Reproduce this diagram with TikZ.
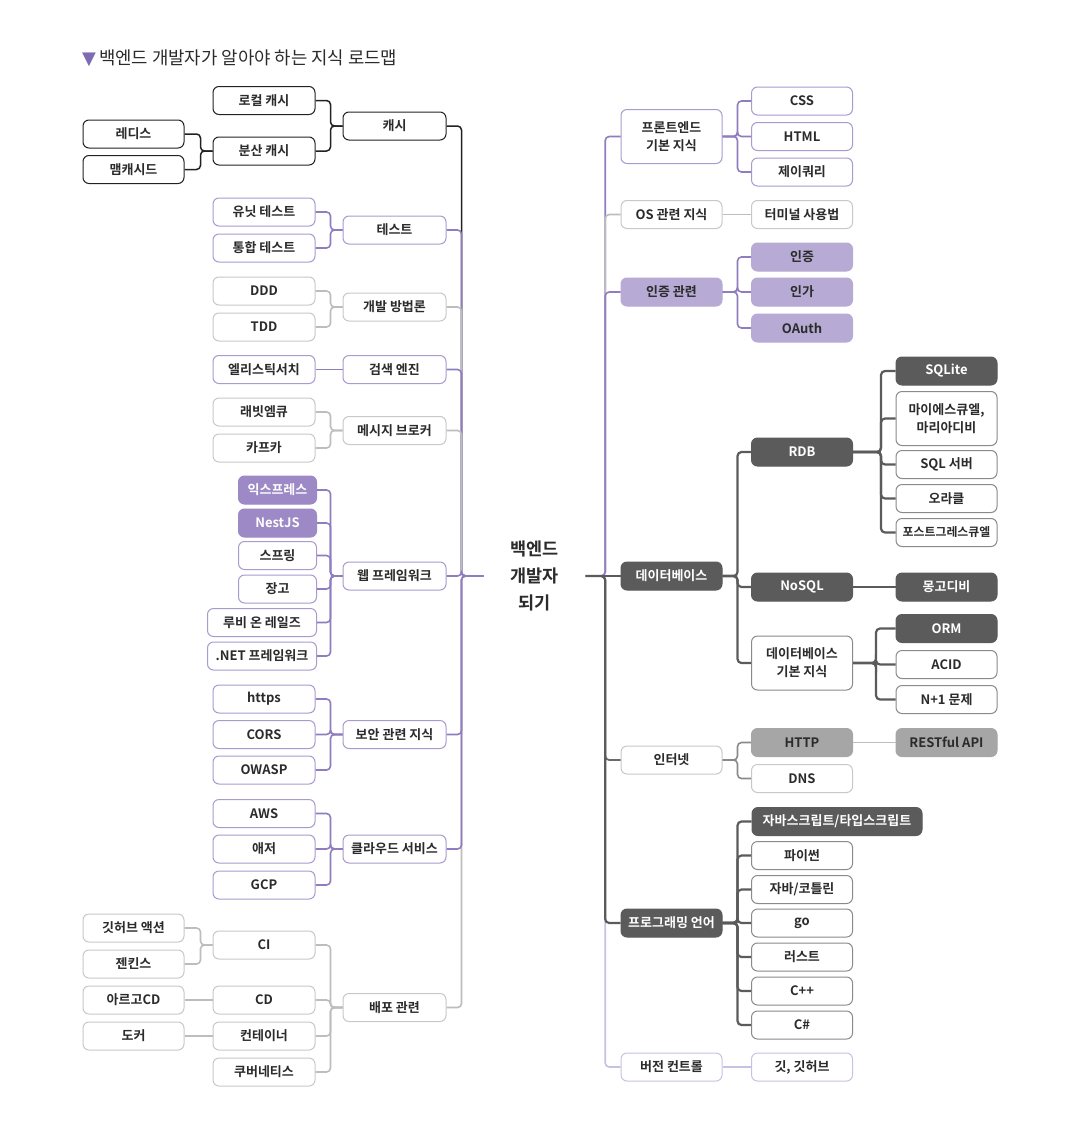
\documentclass[tikz,border=0pt]{standalone}
\usepackage{fontspec}
\setmainfont{Noto Sans CJK KR}[BoldFont={Noto Sans CJK KR Bold}]
\newfontfamily\symfont{DejaVu Sans}
\definecolor{txt}{HTML}{2B2B2B}
\definecolor{blk}{HTML}{222222}
\definecolor{purl}{HTML}{8F7DBF}
\definecolor{purb}{HTML}{A99BCF}
\definecolor{gryl}{HTML}{BDBDBD}
\definecolor{gryb}{HTML}{C8C8C8}
\definecolor{drk}{HTML}{5B5B5B}
\definecolor{midl}{HTML}{8A8A8A}
\definecolor{netl}{HTML}{6A6A6A}
\definecolor{lpur}{HTML}{C9C1E2}
\definecolor{pfa}{HTML}{B7ABD5}
\definecolor{pfb}{HTML}{9C89C5}
\definecolor{mfill}{HTML}{A6A6A6}
\definecolor{ttl}{HTML}{7D6BB3}
\newcommand\elbow[4]{\draw[#1] (#2.east) -- ++(#4,0) |- (#3.west);}
\newcommand\straight[3]{\draw[#1] (#2.east) -- (#3.west);}
\begin{document}
\begin{tikzpicture}[x=1pt,y=-1pt,
  box/.style={rectangle, rounded corners=6pt, draw, fill=white, minimum height=28pt,
    inner sep=2pt, font=\bfseries\fontsize{13}{18}\selectfont, text=txt, line width=1pt, align=center},
  wA/.style={minimum width=101pt}, wB/.style={minimum width=102pt},
  wC/.style={minimum width=103pt}, wN/.style={minimum width=78pt},
  wW/.style={minimum width=109pt}, wR/.style={minimum width=101pt},
  wD/.style={minimum width=101pt}, wE/.style={minimum width=101pt},
  tall/.style={minimum height=54pt},
  stBk/.style={draw=blk}, stPu/.style={draw=purb}, stGy/.style={draw=gryb},
  stDg/.style={draw=midl}, stLp/.style={draw=lpur},
  stDk/.style={draw=drk, fill=drk, text=white},
  stPa/.style={draw=pfa, fill=pfa, text=txt},
  stPb/.style={draw=pfb, fill=pfb, text=white},
  stMg/.style={draw=mfill, fill=mfill, text=txt},
  lnB/.style={draw=blk, line width=1.5pt, rounded corners=4pt},
  lnP/.style={draw=purl, line width=1.6pt, rounded corners=4pt},
  lnG/.style={draw=gryl, line width=1.6pt, rounded corners=4pt},
  lnD/.style={draw=drk, line width=2.2pt, rounded corners=4pt},
  lnM/.style={draw=midl, line width=1.6pt, rounded corners=4pt},
  lnN/.style={draw=netl, line width=1.8pt, rounded corners=4pt},
  lnL/.style={draw=lpur, line width=1.6pt, rounded corners=4pt}]
\fill[white] (0,0) rectangle (1080,1143);
\useasboundingbox (0,0) rectangle (1080,1143);

% title
\node[anchor=west, inner sep=0, font=\fontsize{17.8}{22}\selectfont, text=txt] (title) at (82,58)
  {{\symfont\fontsize{18}{20}\selectfont\color{ttl}▼}\hspace{3pt}백엔드 개발자가 알아야 하는 지식 로드맵};

% root
\node[inner sep=0, minimum width=102pt, font=\bfseries\fontsize{17.5}{27}\selectfont, text=txt, align=center]
  (root) at (534.5,576) {백엔드\\개발자\\되기};

% ---------- left side ----------
\node[box,stBk,wA] (redis) at (133.5,134) {레디스};
\node[box,stBk,wA] (memc) at (133.5,169.5) {맴캐시드};
\node[box,stBk,wB] (local) at (264,100.5) {로컬 캐시};
\node[box,stBk,wB] (dist) at (264,151) {분산 캐시};
\node[box,stBk,wC] (cache) at (394.5,126) {캐시};

\node[box,stPu,wB] (unit) at (264,212) {유닛 테스트};
\node[box,stPu,wB] (integ) at (264,248) {통합 테스트};
\node[box,stPu,wC] (test) at (394.5,230) {테스트};

\node[box,stGy,wB] (ddd) at (264,291) {DDD};
\node[box,stGy,wB] (tdd) at (264,327) {TDD};
\node[box,stGy,wC] (method) at (394.5,307) {개발 방법론};

\node[box,stPu,wB] (elastic) at (264,369.5) {엘리스틱서치};
\node[box,stPu,wC] (search) at (394.5,369.5) {검색 엔진};

\node[box,stGy,wB] (rabbit) at (264,412) {래빗엠큐};
\node[box,stGy,wB] (kafka) at (264,448) {카프카};
\node[box,stGy,wC] (msg) at (394.5,430.5) {메시지 브로커};

\node[box,stPb,wN] (express) at (277.5,490) {익스프레스};
\node[box,stPb,wN] (nest) at (277.5,523) {NestJS};
\node[box,stPu,wN] (spring) at (277.5,555.5) {스프링};
\node[box,stPu,wN] (django) at (277.5,589) {장고};
\node[box,stPu,wW] (rails) at (262,622.5) {루비 온 레일즈};
\node[box,stPu,wW] (dotnet) at (262,656) {.NET 프레임워크};
\node[box,stPu,wC] (web) at (394.5,576) {웹 프레임워크};

\node[box,stPu,wB] (https) at (264,699) {https};
\node[box,stPu,wB] (cors) at (264,734.5) {CORS};
\node[box,stPu,wB] (owasp) at (264,770) {OWASP};
\node[box,stPu,wC] (sec) at (394.5,734.5) {보안 관련 지식};

\node[box,stPu,wB] (aws) at (264,813.5) {AWS};
\node[box,stPu,wB] (azure) at (264,849) {애저};
\node[box,stPu,wB] (gcp) at (264,885) {GCP};
\node[box,stPu,wC] (cloud) at (394.5,849) {클라우드 서비스};

\node[box,stGy,wA] (gha) at (133.5,928) {깃허브 액션};
\node[box,stGy,wA] (jenkins) at (133.5,964) {젠킨스};
\node[box,stGy,wA] (argo) at (133.5,1000) {아르고CD};
\node[box,stGy,wA] (docker) at (133.5,1036) {도커};
\node[box,stGy,wB] (ci) at (264,945) {CI};
\node[box,stGy,wB] (cd) at (264,1000) {CD};
\node[box,stGy,wB] (container) at (264,1036) {컨테이너};
\node[box,stGy,wB] (k8s) at (264,1072) {쿠버네티스};
\node[box,stGy,wC] (deploy) at (394.5,1007.5) {배포 관련};

% ---------- right side ----------
\node[box,stPu,wR,tall] (front) at (671.5,136.5) {프론트엔드\\기본 지식};
\node[box,stPu,wD] (css) at (802,101) {CSS};
\node[box,stPu,wD] (html) at (802,136.5) {HTML};
\node[box,stPu,wD] (jq) at (802,172) {제이쿼리};

\node[box,stGy,wR] (os) at (671.5,214.5) {OS 관련 지식};
\node[box,stGy,wD] (term) at (802,214.5) {터미널 사용법};

\node[box,stPa,wR] (auth) at (671.5,292) {인증 관련};
\node[box,stPa,wD] (authn) at (802,257) {인증};
\node[box,stPa,wD] (authz) at (802,292) {인가};
\node[box,stPa,wD] (oauth) at (802,328) {OAuth};

\node[box,stDk,wR] (db) at (671.5,576) {데이터베이스};
\node[box,stDk,wD] (rdb) at (802,452) {RDB};
\node[box,stDk,wD] (nosql) at (802,587) {NoSQL};
\node[box,stDg,wD,tall] (dbbasic) at (802,663) {데이터베이스\\기본 지식};
\node[box,stDk,wE] (sqlite) at (946.5,371) {SQLite};
\node[box,stDg,wE,tall] (mysql) at (946.5,418.5) {마이에스큐엘,\\마리아디비};
\node[box,stDg,wE] (sqlserver) at (946.5,464.5) {SQL 서버};
\node[box,stDg,wE] (oracle) at (946.5,498.5) {오라클};
\node[box,stDg,wE,inner sep=1pt,font=\bfseries\fontsize{11.9}{16}\selectfont] (pg) at (946.5,532.5) {포스트그레스큐엘};
\node[box,stDk,wE] (mongo) at (946.5,587) {몽고디비};
\node[box,stDk,wE] (orm) at (946.5,628.5) {ORM};
\node[box,stDg,wE] (acid) at (946.5,664.5) {ACID};
\node[box,stDg,wE] (nplus) at (946.5,699.5) {N+1 문제};

\node[box,stGy,wR] (net) at (671.5,760) {인터넷};
\node[box,stMg,wD] (http) at (802,742.5) {HTTP};
\node[box,stGy,wD] (dns) at (802,778.5) {DNS};
\node[box,stMg,wE] (rest) at (946.5,742.5) {RESTful API};

\node[box,stDk,wR] (lang) at (671.5,923) {프로그래밍 언어};
\node[box,stDk,minimum width=170pt] (jsts) at (837,821.5) {자바스크립트/타입스크립트};
\node[box,stDg,wD] (py) at (802,855.5) {파이썬};
\node[box,stDg,wD] (jk) at (802,889.5) {자바/코틀린};
\node[box,stDg,wD] (go) at (802,923) {go};
\node[box,stDg,wD] (rust) at (802,957) {러스트};
\node[box,stDg,wD] (cpp) at (802,991) {C++};
\node[box,stDg,wD] (cs) at (802,1025) {C\#};

\node[box,stLp,wR] (vcs) at (671.5,1067) {버전 컨트롤};
\node[box,stLp,wD] (git) at (802,1067) {깃, 깃허브};

% ---------- connectors: left ----------
\elbow{lnB}{redis}{dist}{16}
\elbow{lnB}{memc}{dist}{16}
\elbow{lnB}{local}{cache}{15}
\elbow{lnB}{dist}{cache}{15}
\elbow{lnP}{unit}{test}{15}
\elbow{lnP}{integ}{test}{15}
\elbow{lnG}{ddd}{method}{15}
\elbow{lnG}{tdd}{method}{15}
\straight{lnP}{elastic}{search}
\elbow{lnG}{rabbit}{msg}{15}
\elbow{lnG}{kafka}{msg}{15}
\elbow{lnP}{express}{web}{13.5}
\elbow{lnP}{nest}{web}{13.5}
\elbow{lnP}{spring}{web}{13.5}
\elbow{lnP}{django}{web}{13.5}
\elbow{lnP}{rails}{web}{13.5}
\elbow{lnP}{dotnet}{web}{13.5}
\elbow{lnP}{https}{sec}{15}
\elbow{lnP}{cors}{sec}{15}
\elbow{lnP}{owasp}{sec}{15}
\elbow{lnP}{aws}{cloud}{15}
\elbow{lnP}{azure}{cloud}{15}
\elbow{lnP}{gcp}{cloud}{15}
\elbow{lnG}{gha}{ci}{16}
\elbow{lnG}{jenkins}{ci}{16}
\straight{lnG}{argo}{cd}
\straight{lnG}{docker}{container}
\elbow{lnG}{ci}{deploy}{15}
\elbow{lnG}{cd}{deploy}{15}
\elbow{lnG}{container}{deploy}{15}
\elbow{lnG}{k8s}{deploy}{15}
% left spine (far first)
\elbow{lnB}{cache}{root}{15}
\elbow{lnP}{test}{root}{15}
\elbow{lnG}{method}{root}{15}
\elbow{lnP}{search}{root}{15}
\elbow{lnG}{msg}{root}{15}
\elbow{lnG}{deploy}{root}{15}
\elbow{lnP}{cloud}{root}{15}
\elbow{lnP}{sec}{root}{15}
\elbow{lnP}{web}{root}{15}

% ---------- connectors: right ----------
\elbow{lnP}{front}{css}{15}
\elbow{lnP}{front}{html}{15}
\elbow{lnP}{front}{jq}{15}
\straight{lnG}{os}{term}
\elbow{lnP}{auth}{authn}{15}
\elbow{lnP}{auth}{authz}{15}
\elbow{lnP}{auth}{oauth}{15}
\elbow{lnD}{db}{rdb}{15}
\elbow{lnD}{db}{nosql}{15}
\elbow{lnD}{db}{dbbasic}{15}
\elbow{lnD}{rdb}{sqlite}{28}
\elbow{lnD}{rdb}{mysql}{28}
\elbow{lnD}{rdb}{sqlserver}{28}
\elbow{lnD}{rdb}{oracle}{28}
\elbow{lnD}{rdb}{pg}{28}
\straight{lnD}{nosql}{mongo}
\elbow{lnD}{dbbasic}{orm}{23}
\elbow{lnD}{dbbasic}{acid}{23}
\elbow{lnD}{dbbasic}{nplus}{23}
\elbow{lnM}{net}{http}{15}
\elbow{lnM}{net}{dns}{15}
\straight{lnG}{http}{rest}
\elbow{lnD}{lang}{jsts}{15}
\elbow{lnD}{lang}{py}{15}
\elbow{lnD}{lang}{jk}{15}
\elbow{lnD}{lang}{go}{15}
\elbow{lnD}{lang}{rust}{15}
\elbow{lnD}{lang}{cpp}{15}
\elbow{lnD}{lang}{cs}{15}
\straight{lnL}{vcs}{git}
% right spine (far first)
\elbow{lnP}{root}{front}{19.5}
\elbow{lnG}{root}{os}{19.5}
\elbow{lnP}{root}{auth}{19.5}
\elbow{lnL}{root}{vcs}{19.5}
\elbow{lnN}{root}{net}{19.5}
\elbow{lnD}{root}{lang}{19.5}
\straight{lnD}{root}{db}
\end{tikzpicture}
\end{document}
